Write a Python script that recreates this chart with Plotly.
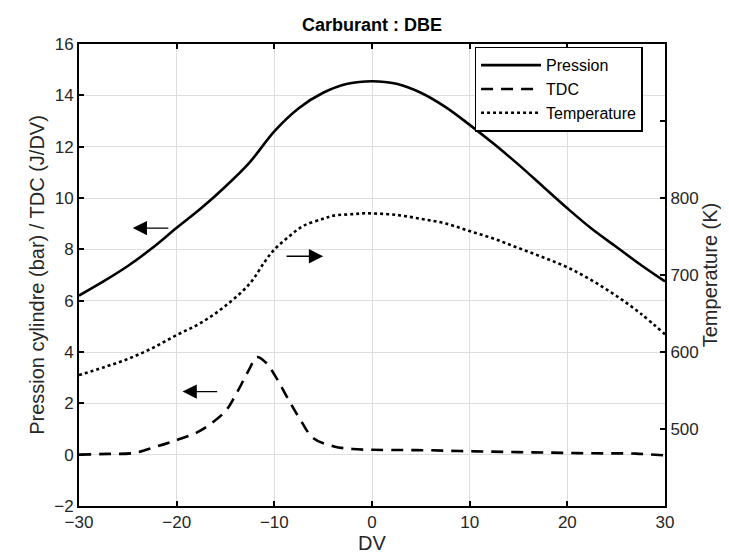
import plotly.graph_objects as go

# crank angle (DV)
dv_p = [-30, -27.5, -25, -22.5, -20, -17.5, -15, -12.5, -10, -7.5, -5, -2.5, 0,
        2.5, 5, 7.5, 10, 12.5, 15, 17.5, 20, 22.5, 25, 27.5, 30]
pression = [6.2, 6.75, 7.35, 8.05, 8.84, 9.6, 10.45, 11.4, 12.6, 13.5, 14.1, 14.45, 14.55,
            14.45, 14.1, 13.55, 12.85, 12.1, 11.3, 10.45, 9.6, 8.8, 8.1, 7.4, 6.75]

dv_tdc = [-30, -27, -24.5, -22.2, -20, -18, -16.7, -15, -14, -12.6, -11.8, -10.9, -9.9,
          -8.4, -7.3, -6, -3.9, -2, 0, 3, 6, 9, 12, 15, 18, 21, 24, 27, 30]
tdc = [0.0, 0.03, 0.06, 0.3, 0.57, 0.85, 1.15, 1.7, 2.3, 3.3, 3.8, 3.6, 3.06,
       2.04, 1.34, 0.64, 0.32, 0.22, 0.19, 0.18, 0.17, 0.14, 0.12, 0.1, 0.08, 0.06, 0.05, 0.04, -0.03]

dv_t = [-30, -27.5, -25, -22.5, -20, -17.5, -15, -12.5, -11, -10, -8.5, -7, -5, -4, -2, -1,
        0, 2.5, 5, 7.5, 10, 12.5, 15, 17.5, 20, 22.5, 25, 27.5, 30]
temperature = [570, 580, 591, 605, 622, 638, 660, 689, 717, 733, 750, 764, 773, 777, 779, 780,
               780, 778, 773, 767, 757, 747, 735, 723, 710, 693, 673, 650, 623]

x_ticks = [-30, -20, -10, 0, 10, 20, 30]
y_ticks = [-2, 0, 2, 4, 6, 8, 10, 12, 14, 16]
t_ticks = [500, 600, 700, 800, 900]
t_labels = ["500", "600", "700", "800", ""]

# arrows: (tail x, tail y, head x, head y) in left-axis units
arrows = [(-20.7, 8.83, -24.5, 8.83), (-8.9, 7.73, -5.0, 7.73), (-15.7, 2.46, -19.4, 2.46)]

FONT = "Liberation Sans, Arial, sans-serif"
FS = 17

fig = go.Figure()
fig.add_trace(go.Scatter(x=dv_p, y=pression, name="Pression", mode="lines",
                         line=dict(color="black", width=2.6, shape="spline")))
fig.add_trace(go.Scatter(x=dv_tdc, y=tdc, name="TDC", mode="lines",
                         line=dict(color="black", width=2.6, dash="12px,8px", shape="spline")))
fig.add_trace(go.Scatter(x=dv_t, y=temperature, name="Temperature", mode="lines", yaxis="y2",
                         line=dict(color="black", width=2.6, dash="3px,3px", shape="spline")))

for x0, y0, x1, y1 in arrows:
    fig.add_annotation(x=x1, y=y1, ax=x0, ay=y0, xref="x", yref="y", axref="x", ayref="y",
                       showarrow=True, arrowhead=2, arrowsize=2.2, arrowwidth=1.3,
                       arrowcolor="black", text="")

fig.update_layout(
    width=729, height=555,
    margin=dict(l=71, r=72, t=36, b=57),
    paper_bgcolor="white", plot_bgcolor="white",
    font=dict(family=FONT, size=FS, color="#262626"),
    title=dict(text="<b>Carburant : DBE</b>", x=0.5, xanchor="center", xref="paper",
               y=1 - 17 / 555, yref="container", yanchor="middle",
               font=dict(family=FONT, size=18, color="black")),
    showlegend=True,
    legend=dict(x=0.675, y=0.994, xanchor="left", yanchor="top",
                bgcolor="white", bordercolor="black", borderwidth=1.5,
                font=dict(family=FONT, size=16, color="black"),
                tracegroupgap=0, itemwidth=60),
    xaxis=dict(range=[-30, 30], tickvals=x_ticks, title=dict(text="DV", standoff=4),
               showgrid=True, gridcolor="#dedede", gridwidth=1, zeroline=False,
               showline=True, linecolor="black", linewidth=2, mirror="ticks",
               ticks="inside", ticklen=5, tickwidth=1.5, tickcolor="black"),
    yaxis=dict(range=[-2, 16], tickvals=y_ticks,
               title=dict(text="Pression cylindre (bar) / TDC (J/DV)", standoff=4),
               showgrid=True, gridcolor="#dedede", gridwidth=1, zeroline=False,
               showline=True, linecolor="black", linewidth=2,
               ticks="inside", ticklen=5, tickwidth=1.5, tickcolor="black"),
    yaxis2=dict(range=[400, 1000], tickvals=t_ticks, ticktext=t_labels, overlaying="y", side="right",
                title=dict(text="Temperature (K)", standoff=4),
                showgrid=False, zeroline=False,
                showline=True, linecolor="black", linewidth=2,
                ticks="inside", ticklen=5, tickwidth=1.5, tickcolor="black"),
)

fig.write_html("out.html")
